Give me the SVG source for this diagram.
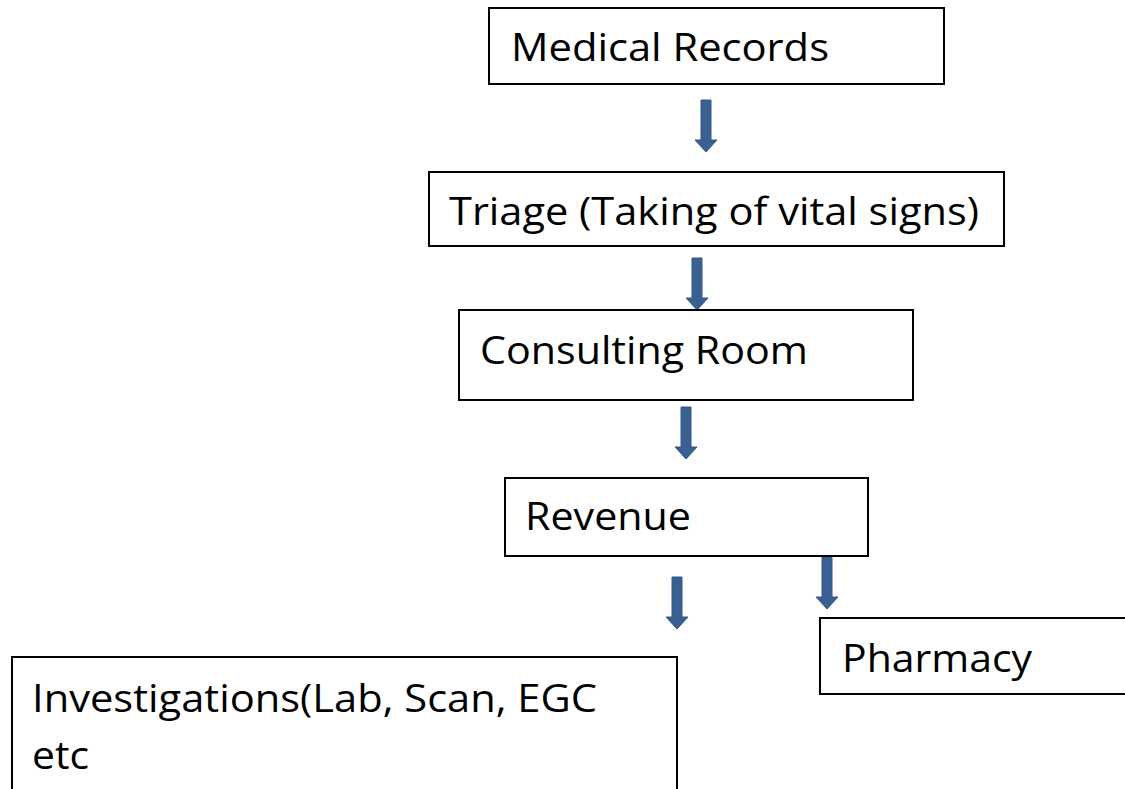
<svg xmlns="http://www.w3.org/2000/svg" width="1125" height="789" viewBox="0 0 1125 789">
<style>
.box{fill:#fff;stroke:#000;stroke-width:2}
.t{font-family:"Open Sans","Liberation Sans",sans-serif;font-size:39px;fill:#000}
.arr{fill:#3a5f91;stroke:#35588a;stroke-width:1}
</style>
<defs>
<path id="a" d="M-5,0 H5 V40 H11 L0,52 L-11,40 H-5 Z"/>
</defs>
<rect width="1125" height="789" fill="#fff"/>
<g id="connectors">
<use href="#a" class="arr" x="706" y="100"/>
<use href="#a" class="arr" x="697" y="258"/>
<use href="#a" class="arr" x="686" y="407"/>
<use href="#a" class="arr" x="677" y="577"/>
<use href="#a" class="arr" x="827" y="557"/>
</g>
<g id="medical-records"><rect class="box" x="489" y="8" width="455" height="76"/><text class="t" x="511" y="61" textLength="318" lengthAdjust="spacingAndGlyphs">Medical Records</text></g>
<g id="triage"><rect class="box" x="429" y="172" width="575" height="74"/><text class="t" x="449" y="225" textLength="530" lengthAdjust="spacingAndGlyphs">Triage (Taking of vital signs)</text></g>
<g id="consulting-room"><rect class="box" x="459" y="310" width="454" height="90"/><text class="t" x="480" y="364" textLength="328" lengthAdjust="spacingAndGlyphs">Consulting Room</text></g>
<g id="revenue"><rect class="box" x="505" y="478" width="363" height="78"/><text class="t" x="525" y="530" textLength="166" lengthAdjust="spacingAndGlyphs">Revenue</text></g>
<g id="pharmacy"><rect class="box" x="820" y="618" width="320" height="76"/><text class="t" x="842" y="672" textLength="190" lengthAdjust="spacingAndGlyphs">Pharmacy</text></g>
<g id="investigations"><rect class="box" x="12" y="657" width="665" height="150"/><text class="t" x="32" y="712" textLength="565" lengthAdjust="spacingAndGlyphs">Investigations(Lab, Scan, EGC</text><text class="t" x="32" y="769" textLength="57" lengthAdjust="spacingAndGlyphs">etc</text></g>
</svg>
